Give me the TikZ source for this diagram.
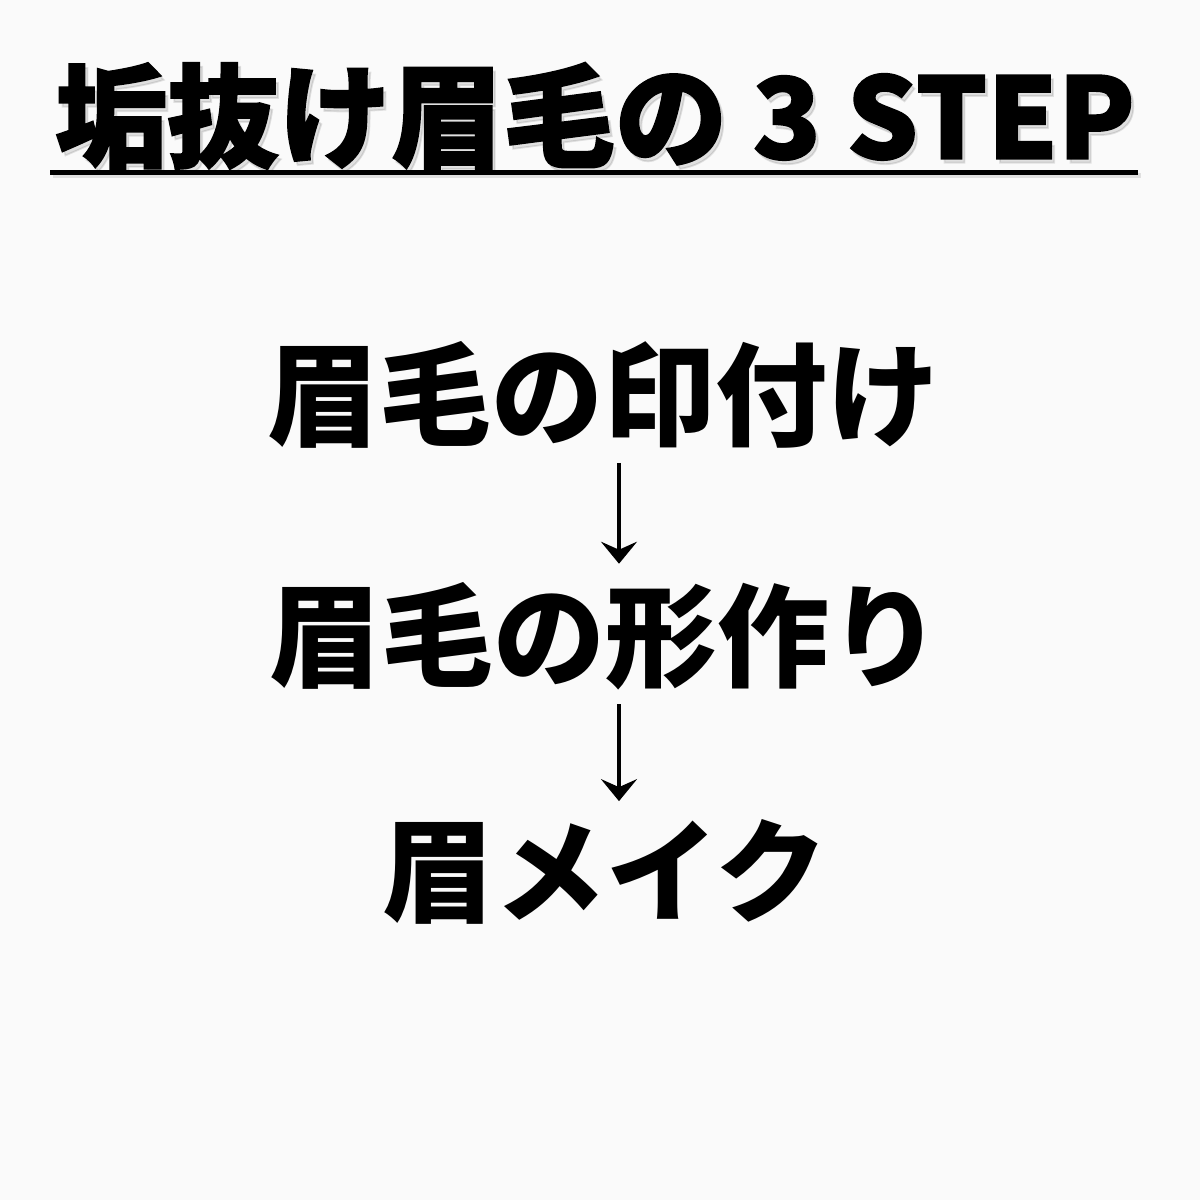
\documentclass[tikz,border=0pt]{standalone}
\usepackage{fontspec}
\newfontfamily\jpfont{Noto Sans CJK JP}
\newfontfamily\heavyfont{Noto Sans CJK JP}[BoldFeatures={FakeBold=1.6}]
\usepackage{tikz}
\usetikzlibrary{positioning,arrows.meta}
\definecolor{paper}{RGB}{250,250,250}
\tikzset{
  titlebox/.style = {font=\heavyfont\bfseries\fontsize{56}{60}\selectfont,
                     inner sep=0pt},
  stepbox/.style  = {font=\jpfont\bfseries\fontsize{56}{60}\selectfont,
                     inner sep=0pt},
  flow/.style     = {-{Stealth[length=11pt,width=18pt,inset=4pt]},
                     line width=1.6pt}
}

\begin{document}
\begin{tikzpicture}[x=0.5pt,y=-0.5pt]
  \fill[paper] (0,0) rectangle (1200,1200);
  \useasboundingbox (0,0) rectangle (1200,1200);
  % title, underline and their soft shadow
  \node[titlebox, text=black, opacity=0.1] (shadow) at (598,120) {垢抜け眉毛の 3 STEP};
  \fill[black, opacity=0.1] (53,173) rectangle (1141,178);
  \node[titlebox] (title) at (595,116) {垢抜け眉毛の 3 STEP};
  \fill (50,170) rectangle (1138,175);
  % steps
  \node[stepbox] (mark)  at (603,395) {眉毛の印付け};
  \node[stepbox] (shape) at (605,636) {眉毛の形作り};
  \node[stepbox] (make)  at (605,872) {眉メイク};
  \draw[flow] ([xshift=8pt,yshift=-7pt]mark.south) -- ([xshift=7pt,yshift=9pt]shape.north);
  \draw[flow] ([xshift=7pt,yshift=-7pt]shape.south) -- ([xshift=7pt,yshift=9pt]make.north);
\end{tikzpicture}
\end{document}
